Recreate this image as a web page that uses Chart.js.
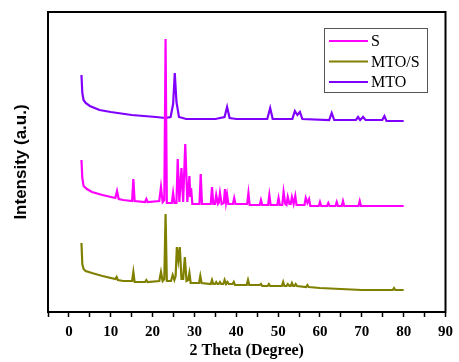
<!DOCTYPE html>
<html>
<head>
<meta charset="utf-8">
<script src="https://cdn.jsdelivr.net/npm/chart.js@4"></script>
<style>
    html, body { margin: 0; padding: 0; background: #fff; }
    #wrap { width: 459px; height: 362px; }
</style>
</head>
<body>
<div id="wrap"><canvas id="xrdChart" width="459" height="362"></canvas></div>
<script>
// 2 theta positions and intensities (arbitrary units, stacked offsets)
const sTheta = [3, 3.2, 3.5, 4.3, 5.5, 8, 11.1, 11.5, 11.9, 13, 15.1, 15.4, 15.7, 18.2, 18.5, 18.8, 21.6, 22, 22.4, 22.8, 23.1, 23.4, 24.6, 24.9, 25.2, 25.7, 26.0, 26.4, 26.9, 27.3, 27.8, 28.3, 28.8, 29.0, 29.2, 29.5, 31.2, 31.5, 31.8, 33.9, 34.2, 34.5, 34.9, 35.2, 35.6, 35.8, 36.1, 36.5, 37.0, 37.3, 37.55, 37.8, 38.1, 39.2, 39.5, 39.8, 42.6, 42.9, 43.2, 45.6, 45.9, 46.2, 47.6, 47.9, 48.2, 49.8, 50.1, 50.4, 51.0, 51.3, 51.7, 52.0, 52.3, 52.7, 53.0, 53.3, 53.7, 54.1, 54.4, 56.3, 56.6, 57.0, 57.4, 57.7, 59.7, 60.0, 60.3, 61.7, 62.0, 62.3, 63.7, 64.0, 64.3, 65.2, 65.5, 65.8, 69.2, 69.5, 69.8, 75, 80];
const sInt = [152, 134, 126, 123, 120, 117, 114, 121, 113, 112, 111, 133, 111, 110, 113, 110, 111, 125, 110, 112, 273, 109, 109, 119, 109, 109, 153, 110, 144, 110, 168, 110, 136, 115, 124, 108, 108, 138, 108, 108, 125, 108, 108, 117, 108, 109, 119, 108, 109, 123, 110, 117, 108, 108, 114, 108, 108, 119, 107, 107, 112, 107, 107, 117, 107, 107, 114, 107, 107, 120, 108, 107, 115, 108, 108, 115, 108, 116, 107, 107, 114, 109, 113, 106, 106, 110, 106, 106, 109, 106, 106, 110, 106, 106, 111, 106, 106, 111, 106, 106, 106];

const mtosTheta = [3, 3.2, 3.5, 4.0, 5.5, 8, 11.1, 11.4, 11.7, 13, 15.1, 15.4, 15.7, 18.2, 18.5, 18.8, 21.6, 22, 22.4, 22.8, 23.1, 23.4, 24.4, 24.8, 25.2, 25.5, 25.8, 26.15, 26.5, 26.9, 27.3, 27.7, 28.1, 28.5, 28.8, 29.1, 31.1, 31.4, 31.7, 33.9, 34.2, 34.5, 34.9, 35.2, 35.5, 35.8, 36.1, 36.4, 36.9, 37.2, 37.55, 37.9, 38.2, 39.1, 39.4, 39.7, 42.5, 42.8, 43.1, 45.6, 45.9, 46.2, 47.5, 47.8, 48.1, 50.9, 51.2, 51.5, 52.0, 52.3, 52.7, 53.0, 53.3, 53.6, 53.9, 54.2, 54.5, 56.7, 57.0, 57.3, 60, 65, 70, 77.4, 77.7, 78.0, 80];
const mtosInt = [69, 48, 43, 41, 39, 36, 33, 35, 32, 31, 31, 40, 30, 30, 32, 30, 31, 40, 31, 33, 98, 31, 31, 37, 32, 36, 65, 52, 65, 33, 33, 55, 31, 32, 39, 29, 29, 36, 29, 28, 32, 28, 28, 30, 28, 28, 30, 28, 28, 32, 28, 30, 28, 28, 30, 27, 27, 32, 27, 27, 28, 26, 26, 28, 26, 26, 30, 26, 26, 28, 26, 26, 29, 26, 26, 28, 26, 25, 27, 25, 24, 23, 22, 22, 24, 22, 22];

const mtoTheta = [3, 3.2, 3.5, 4, 5, 7.3, 10, 15, 20.8, 23, 24.3, 24.9, 25.3, 25.7, 26.3, 28, 35, 37.2, 37.8, 38.4, 40, 47.4, 48.1, 48.7, 53.4, 54.0, 54.6, 55.2, 55.8, 62.2, 62.8, 63.4, 68.6, 69.1, 69.6, 70.3, 70.9, 74.9, 75.4, 75.9, 80];
const mtoInt = [237, 219, 212, 209, 206, 202, 200, 197, 195, 194, 195, 208, 239, 210, 195, 193, 193, 195, 205, 194, 193, 193, 204, 193, 193, 201, 197, 200, 193, 192, 199, 192, 192, 195, 192, 195, 192, 192, 196, 191, 191];

const seriesNames = ["S", "MTO/S", "MTO"];
const seriesColors = ["#ff00ff", "#808000", "#8000ff"];

function toPoints(xs, ys) {
    return xs.map((x, i) => ({ x: x, y: ys[i] }));
}

// frame around the plot plus the boxed legend in the top right
const framePlugin = {
    id: "frame",
    afterDraw(chart) {
        const ctx = chart.ctx;
        const a = chart.chartArea;
        ctx.save();
        ctx.strokeStyle = "#000";
        ctx.lineWidth = 2;
        ctx.strokeRect(a.left, a.top, a.right - a.left, a.bottom - a.top);

        ctx.fillStyle = "#fff";
        ctx.fillRect(324, 28, 103, 64);
        ctx.strokeStyle = "#555";
        ctx.lineWidth = 1;
        ctx.strokeRect(324.5, 28.5, 103, 64);
        ctx.font = "16px 'Liberation Serif', 'Times New Roman', serif";
        ctx.textBaseline = "middle";
        seriesNames.forEach((name, i) => {
            const y = 41 + i * 20.5;
            ctx.strokeStyle = seriesColors[i];
            ctx.lineWidth = 2;
            ctx.beginPath();
            ctx.moveTo(329, y);
            ctx.lineTo(368, y);
            ctx.stroke();
            ctx.fillStyle = "#000";
            ctx.fillText(name, 371, y + 1);
        });
        ctx.restore();
    }
};

document.addEventListener("DOMContentLoaded", function () {
    const ctx = document.getElementById("xrdChart");
    const sets = [
        toPoints(sTheta, sInt),
        toPoints(mtosTheta, mtosInt),
        toPoints(mtoTheta, mtoInt)
    ];
    new Chart(ctx, {
        type: "line",
        data: {
            datasets: sets.map((d, i) => ({
                label: seriesNames[i],
                data: d,
                borderColor: seriesColors[i],
                borderWidth: 2.2,
                pointRadius: 0,
                tension: 0,
                fill: false
            }))
        },
        options: {
            responsive: false,
            animation: false,
            layout: { padding: { top: 12, right: 8, left: 0, bottom: 0 } },
            plugins: { legend: { display: false }, tooltip: { enabled: false } },
            scales: {
                x: {
                    type: "linear",
                    min: -5,
                    max: 90,
                    afterFit(s) { s.height = 50; },
                    ticks: {
                        stepSize: 5,
                        autoSkip: false,
                        maxRotation: 0,
                        padding: 6,
                        color: "#000",
                        font: { family: "'Liberation Serif', 'Times New Roman', serif", size: 15, weight: "bold" },
                        callback: v => (v % 10 === 0 ? v : "")
                    },
                    grid: { display: true, drawOnChartArea: false, tickLength: 5, tickColor: "#000", tickWidth: 1.5 },
                    border: { display: true, color: "#000", width: 2 },
                    title: {
                        display: true,
                        text: "2 Theta (Degree)",
                        color: "#000",
                        padding: { top: 0, bottom: 2 },
                        font: { family: "'Liberation Serif', 'Times New Roman', serif", size: 16, weight: "bold" }
                    }
                },
                y: {
                    min: 0,
                    max: 300,
                    afterFit(s) { s.width = 48; },
                    ticks: { display: false },
                    grid: { display: false },
                    border: { display: true, color: "#000", width: 2 },
                    title: {
                        display: true,
                        text: "Intensity (a.u.)",
                        color: "#000",
                        padding: { top: 11, bottom: 0 },
                        font: { family: "'Liberation Sans', Arial, sans-serif", size: 17, weight: "bold" }
                    }
                }
            }
        },
        plugins: [framePlugin]
    });
});
</script>
</body>
</html>
